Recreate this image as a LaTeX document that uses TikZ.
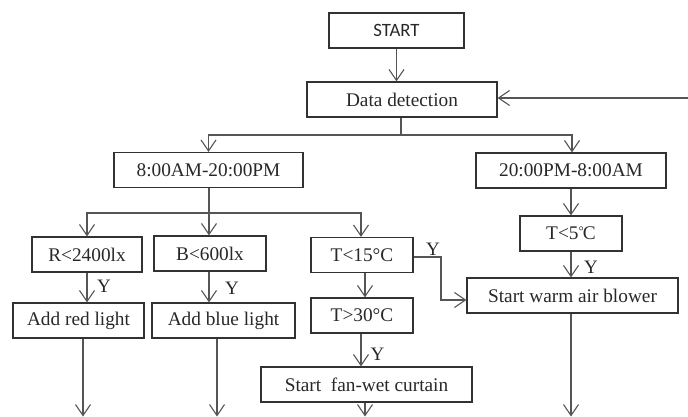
\documentclass[tikz,border=0pt]{standalone}
\usepackage{fontspec}
\setmainfont{Liberation Serif}
\newfontfamily\startfont{Carlito}
\usetikzlibrary{arrows.meta}
\definecolor{boxline}{RGB}{50,50,50}
\definecolor{linkline}{RGB}{85,85,85}
\definecolor{txt}{RGB}{40,40,40}
% compact degree-Celsius sign built from a small degree mark and a C
\newcommand{\degC}{{\raisebox{4pt}{\fontsize{13}{13}\selectfont °}\kern-0.8pt C}}
\tikzset{
  box/.style={draw=boxline, line width=1.2pt, minimum height=35pt, inner sep=0pt,
    text=txt, font=\fontsize{19.3}{21}\selectfont},
  link/.style={draw=linkline, line width=1.3pt,
    -{Straight Barb[length=11pt,width=15pt,line width=1.1pt]}},
  plain/.style={draw=linkline, line width=1.3pt},
  ylab/.style={text=txt, font=\fontsize{19}{21}\selectfont, inner sep=0pt}
}
\begin{document}
\begin{tikzpicture}[x=1pt,y=-1pt]
\useasboundingbox (0,0) rectangle (688,417);
% boxes
\node[box, minimum width=135pt, font=\startfont\fontsize{18.8}{20}\selectfont] (start) at (396.5,30.5) {START};
\node[box, minimum width=190pt] (detect) at (402,99.5) {Data detection};
\node[box, minimum width=189pt] (day) at (208.5,170) {8:00AM-20:00PM};
\node[box, minimum width=190pt] (night) at (571,170.5) {20:00PM-8:00AM};
\node[box, minimum width=110pt] (red) at (87,254.5) {R<2400lx};
\node[box, minimum width=112pt] (blue) at (210,253.5) {B<600lx};
\node[box, minimum width=102pt] (tlow) at (362,255) {T<15°C};
\node[box, minimum width=131pt] (addred) at (78.5,320.5) {Add red light};
\node[box, minimum width=143pt] (addblue) at (223.5,320.5) {Add blue light};
\node[box, minimum width=102pt] (thigh) at (362,315.5) {T>30°C};
\node[box, minimum width=211pt] (fan) at (366.5,384.5) {Start\ \ fan-wet curtain};
\node[box, minimum width=102pt] (tfive) at (571,233.5) {T<5\degC};
\node[box, minimum width=211pt] (warm) at (572.5,295.5) {Start warm air blower};
% junction points
\coordinate (split) at (401,135);
\coordinate (daysplit) at (209,213);
\coordinate (back) at (688,98);
\coordinate (bend) at (441,257);
\coordinate (outred) at (83,416.5);
\coordinate (outblue) at (217,416.5);
\coordinate (outfan) at (365,416.5);
\coordinate (outwarm) at (571,416.5);
% main flow
\draw[link] (start.south) -- (start.south |- detect.north);
\draw[plain] (detect.south -| split) -- (split);
\draw[link] (split) -| (day.north);
\draw[link] (split) -| ([xshift=1pt]night.north);
\draw[link] (back) -- (back -| detect.east);
% daytime branch
\draw[plain] (day.south -| daysplit) -- (daysplit);
\draw[link] (daysplit) -| (red.north);
\draw[link] (daysplit) -| ([xshift=-1pt]blue.north);
\draw[link] (daysplit) -| ([xshift=-1pt]tlow.north);
\draw[link] (red.south) -- (red.south |- addred.north);
\draw[link] ([xshift=-1pt]blue.south) -- ([xshift=-1pt]blue.south |- addblue.north);
\draw[link] ([xshift=3pt]tlow.south) -- ([xshift=3pt]tlow.south |- thigh.north);
\draw[link] ([xshift=-1pt]thigh.south) -- ([xshift=-1pt]thigh.south |- fan.north);
\draw[link] (tlow.east |- bend) -- (bend) |- (warm.west |- 0,300);
% night branch
\draw[link] (night.south -| outwarm) -- (tfive.north -| outwarm);
\draw[link] (tfive.south -| outwarm) -- (warm.north -| outwarm);
% outgoing arrows
\draw[link] (addred.south -| outred) -- (outred);
\draw[link] (addblue.south -| outblue) -- (outblue);
\draw[link] (fan.south -| outfan) -- (outfan);
\draw[link] (warm.south -| outwarm) -- (outwarm);
% yes labels
\node[ylab] (y1) at (104,286) {Y};
\node[ylab] (y2) at (232,288) {Y};
\node[ylab] (y3) at (377.5,354) {Y};
\node[ylab] (y4) at (433,249) {Y};
\node[ylab] (y5) at (591,267) {Y};
\end{tikzpicture}
\end{document}
